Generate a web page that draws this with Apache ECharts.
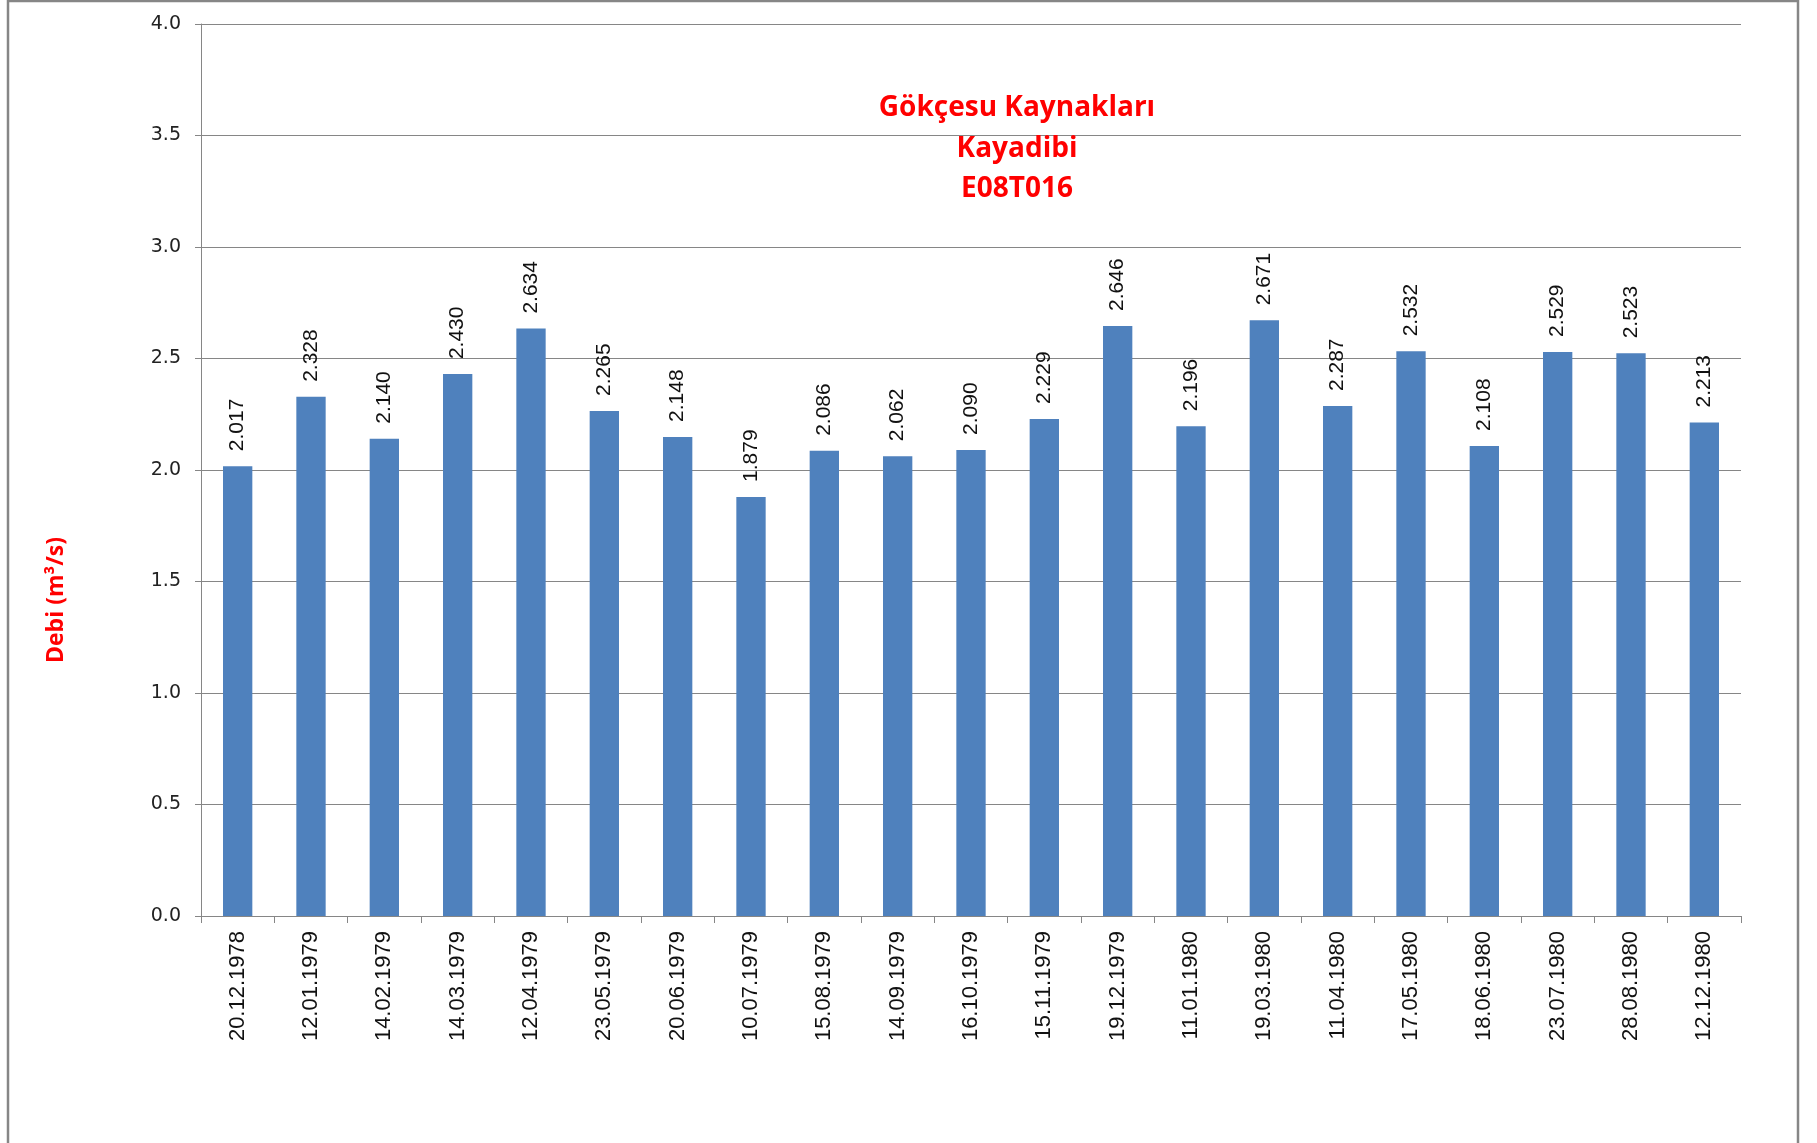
<!DOCTYPE html>
<html>
<head>
<meta charset="utf-8">
<title>Gökçesu Kaynakları - Kayadibi E08T016</title>
<script src="https://cdn.jsdelivr.net/npm/echarts@6/dist/echarts.min.js"></script>
<style>
  html, body { margin: 0; padding: 0; background: #fff; }
  #chart { width: 1817px; height: 1143px; }
</style>
</head>
<body>
<div id="chart"></div>
<script>
  // tarih etiketleri (x ekseni)
  const dates = [
    '20.12.1978', '12.01.1979', '14.02.1979', '14.03.1979', '12.04.1979',
    '23.05.1979', '20.06.1979', '10.07.1979', '15.08.1979', '14.09.1979',
    '16.10.1979', '15.11.1979', '19.12.1979', '11.01.1980', '19.03.1980',
    '11.04.1980', '17.05.1980', '18.06.1980', '23.07.1980', '28.08.1980',
    '12.12.1980'
  ];
  // debi degerleri (m3/s)
  const debi = [
    2.017, 2.328, 2.140, 2.430, 2.634,
    2.265, 2.148, 1.879, 2.086, 2.062,
    2.090, 2.229, 2.646, 2.196, 2.671,
    2.287, 2.532, 2.108, 2.529, 2.523,
    2.213
  ];
  const titleLines = ['Gökçesu Kaynakları', 'Kayadibi', 'E08T016'];
  const yName = 'Debi (m³/s)';

  const gray = '#868686';
  let chart = echarts.init(document.getElementById('chart'));
  chart.setOption({
    backgroundColor: '#fff',
    animation: false,
    title: {
      text: titleLines.join('\n'),
      left: 1017,
      top: 88,
      textAlign: 'center',
      padding: 0,
      textStyle: {
        color: '#ff0000',
        fontFamily: 'Open Sans',
        fontWeight: 'bold',
        fontSize: 28,
        lineHeight: 40.5
      }
    },
    graphic: [
      // dis cerceve
      {
        type: 'rect',
        shape: { x: 8, y: 1, width: 1790, height: 1160 },
        style: { fill: 'none', stroke: gray, lineWidth: 2.5 },
        silent: true
      },
      // y ekseni basligi
      {
        type: 'text',
        x: 56,
        y: 600,
        rotation: Math.PI / 2,
        style: {
          text: yName,
          fill: '#ff0000',
          font: 'bold 23px "Open Sans"',
          align: 'center',
          verticalAlign: 'middle'
        },
        silent: true
      }
    ],
    grid: { left: 201, top: 24, right: 76, bottom: 227 },
    xAxis: {
      type: 'category',
      data: dates,
      axisLine: { lineStyle: { color: gray, width: 1 } },
      axisTick: { show: true, length: 7, lineStyle: { color: gray } },
      axisLabel: {
        rotate: 90,
        interval: 0,
        margin: 15,
        color: '#111',
        fontFamily: 'Liberation Sans',
        fontSize: 22
      }
    },
    yAxis: {
      type: 'value',
      min: 0,
      max: 4,
      interval: 0.5,
      axisLine: { show: true, lineStyle: { color: gray, width: 1 } },
      axisTick: { show: true, inside: false, length: 6, lineStyle: { color: gray } },
      splitLine: { lineStyle: { color: gray, width: 1 } },
      axisLabel: {
        margin: 20,
        color: '#222',
        fontFamily: 'DejaVu Sans',
        fontSize: 19,
        formatter: v => v.toFixed(1)
      }
    },
    series: [{
      name: 'Debi',
      type: 'bar',
      data: debi,
      barWidth: '40%',
      itemStyle: { color: '#4f81bd' },
      label: {
        show: true,
        position: 'top',
        distance: 15,
        rotate: 90,
        align: 'left',
        verticalAlign: 'middle',
        color: '#111',
        fontFamily: 'Liberation Sans',
        fontSize: 21,
        formatter: p => p.value.toFixed(3)
      }
    }]
  });
</script>
</body>
</html>
